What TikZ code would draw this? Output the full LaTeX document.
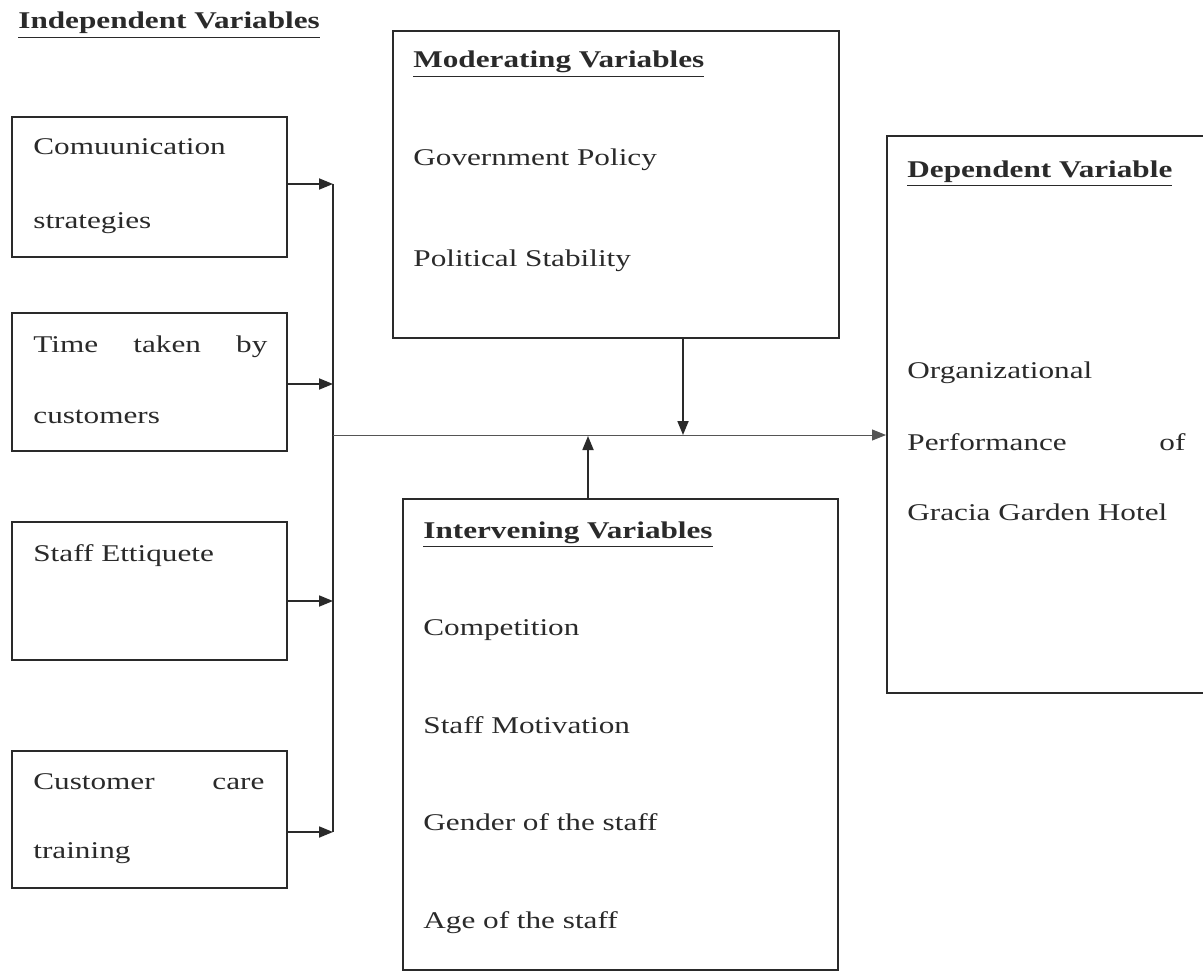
\documentclass[tikz,border=0pt]{standalone}
\usepackage{fontspec}
\setmainfont[FakeStretch=1.3]{Liberation Serif}
\usetikzlibrary{arrows.meta,fit}
\definecolor{ink}{HTML}{2A2A2A}
\begin{document}
\begin{tikzpicture}[x=0.5pt,y=-0.5pt,
  font=\fontsize{12}{14.4}\selectfont,
  every node/.style={text=ink},
  boxframe/.style={draw=ink,line width=1pt,inner sep=0pt},
  lbl/.style={anchor=base west,inner sep=0pt},
  arr/.style={draw=ink,line width=0.9pt,-{Triangle[length=7pt,width=5.5pt]}},
  thinarr/.style={draw=ink!80,line width=0.5pt,-{Triangle[length=7pt,width=5.5pt]}},
  bus/.style={draw=ink,line width=1pt}]
\useasboundingbox (0,0) rectangle (1203,973);
\fill[white] (0,0) rectangle (1203,973);

% title
\node[lbl] (tind) at (18,29) {\underline{\textbf{Independent Variables}}};

% independent boxes
\node[boxframe,fit={(12,117) (287,257)}] (b1) {};
\node[boxframe,fit={(12,313) (287,451)}] (b2) {};
\node[boxframe,fit={(12,522) (287,660)}] (b3) {};
\node[boxframe,fit={(12,751) (287,888)}] (b4) {};

\node[lbl] (b1a) at (33,155) {Comuunication};
\node[lbl] (b1b) at (33,228) {strategies};
\node[lbl] (b2a) at (33,352) {\makebox[117pt][s]{Time taken by}};
\node[lbl] (b2b) at (33,423) {customers};
\node[lbl] (b3a) at (33,561) {Staff Ettiquete};
\node[lbl] (b4a) at (33,789) {\makebox[115.5pt][s]{Customer care}};
\node[lbl] (b4b) at (33,858) {training};

% moderating box
\node[boxframe,fit={(393,31) (839,338)}] (mod) {};
\node[lbl] (modt) at (413,68) {\underline{\textbf{Moderating Variables}}};
\node[lbl] (mod1) at (413,166) {Government Policy};
\node[lbl] (mod2) at (413,266) {Political Stability};

% intervening box
\node[boxframe,fit={(403,499) (838,970)}] (int) {};
\node[lbl] (intt) at (423,538) {\underline{\textbf{Intervening Variables}}};
\node[lbl] (int1) at (423,635) {Competition};
\node[lbl] (int2) at (423,733) {Staff Motivation};
\node[lbl] (int3) at (423,830) {Gender of the staff};
\node[lbl] (int4) at (423,928) {Age of the staff};

% dependent box
\node[boxframe,fit={(887,136) (1210,693)}] (dep) {};
\node[lbl] (dept) at (907,177) {\underline{\textbf{Dependent Variable}}};
\node[lbl] (dep1) at (907,378) {Organizational};
\node[lbl] (dep2) at (907,450) {\makebox[139pt][s]{Performance of}};
\node[lbl] (dep3) at (907,520) {Gracia Garden Hotel};

% junction coordinates
\coordinate (j1) at (333,184);
\coordinate (j2) at (333,384);
\coordinate (j3) at (333,601);
\coordinate (j4) at (333,832);
\coordinate (jm) at (333,435);
\coordinate (md) at (683,435);
\coordinate (iu) at (588,436);

% connectors
\draw[arr] (b1.east |- j1) -- (j1);
\draw[arr] (b2.east |- j2) -- (j2);
\draw[arr] (b3.east |- j3) -- (j3);
\draw[arr] (b4.east |- j4) -- (j4);
\draw[bus] (j1) -- (j4);
\draw[thinarr] (jm) -- (dep.west |- jm);
\draw[arr] (mod.south -| md) -- (md);
\draw[arr] (int.north -| iu) -- (iu);
\end{tikzpicture}
\end{document}
